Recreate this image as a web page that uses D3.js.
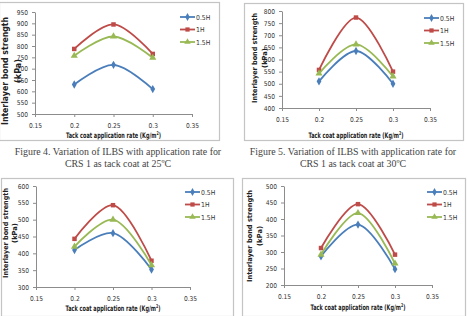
<!DOCTYPE html>
<html>
<head>
<meta charset="utf-8">
<script src="https://cdn.jsdelivr.net/npm/d3@7"></script>
<style>
  body { margin: 0; background: #fff; }
  svg { display: block; }
  .tick text { font-family: "DejaVu Sans", sans-serif; font-stretch: condensed; font-size: 6.6px; fill: #333; }
</style>
</head>
<body>
<svg id="chart" width="467" height="316"></svg>
<script>
const rates = [0.2, 0.25, 0.3];
const xTicks = [0.15, 0.2, 0.25, 0.3, 0.35];
const seriesNames = ["0.5H", "1H", "1.5H"];

// Fig 4 (25ºC)
const fig4Half = [630, 717, 610];
const fig4One = [787, 895, 765];
const fig4OneHalf = [757, 842, 748];
const fig4Ticks = [500, 550, 600, 650, 700, 750, 800, 850, 900, 950];

// Fig 5 (30ºC)
const fig5Half = [510, 635, 500];
const fig5One = [557, 773, 550];
const fig5OneHalf = [542, 662, 530];
const fig5Ticks = [400, 450, 500, 550, 600, 650, 700, 750, 800];

// lower left
const fig6Half = [410, 460, 352];
const fig6One = [443, 543, 378];
const fig6OneHalf = [420, 500, 365];
const fig6Ticks = [300, 350, 400, 450, 500, 550, 600];

// lower right
const fig7Half = [287, 383, 248];
const fig7One = [312, 445, 292];
const fig7OneHalf = [292, 418, 265];
const fig7Ticks = [200, 250, 300, 350, 400, 450, 500];

const caption4 = ["Figure 4. Variation of ILBS with application rate for", "CRS 1 as tack coat at 25ºC"];
const caption5 = ["Figure  5. Variation of ILBS with application rate for", "CRS 1 as tack coat at 30ºC"];

const colors = ["#4a7ebb", "#be4b48", "#98b954"];
const shapes = [d3.symbolDiamond, d3.symbolSquare, d3.symbolTriangle];
const sans = "DejaVu Sans, sans-serif";

const svg = d3.select("#chart");

function panel(cfg) {
  const { series, ticks, box, plot, title } = cfg;

  svg.append("rect")
    .attr("x", box[0] + 0.5).attr("y", box[1] + 0.5)
    .attr("width", box[2] - box[0]).attr("height", box[3] - box[1])
    .attr("fill", "none").attr("stroke", "#c4c4c4").attr("stroke-width", 1.2);

  const x = d3.scaleLinear().domain([0.15, 0.35]).range([plot[0], plot[1]]);
  const y = d3.scaleLinear().domain([ticks[0], ticks[ticks.length - 1]]).range([plot[3], plot[2]]);

  const gx = svg.append("g").attr("transform", `translate(0,${plot[3]})`)
    .call(d3.axisBottom(x).tickValues(xTicks).tickSize(3).tickSizeOuter(0).tickFormat(d3.format("")));
  const gy = svg.append("g").attr("transform", `translate(${plot[0]},0)`)
    .call(d3.axisLeft(y).tickValues(ticks).tickSize(3).tickSizeOuter(0));
  [gx, gy].forEach(g => {
    g.select(".domain").attr("stroke", "#8c8c8c");
    g.selectAll(".tick line").attr("stroke", "#8c8c8c");
  });
  gx.selectAll(".tick text").attr("dy", "1.25em");
  gy.selectAll(".tick text").attr("dx", "-1px");

  // y title: [x of baseline, centre y, length, font size, line gap]
  const yt = svg.append("text")
    .attr("transform", `translate(${title[0]},${title[1]}) rotate(-90)`)
    .attr("text-anchor", "middle")
    .attr("font-family", sans)
    .attr("font-weight", 700).attr("font-size", title[3])
    .attr("fill", "#222");
  yt.append("tspan").attr("x", 0).attr("dy", 0)
    .attr("textLength", title[2]).attr("lengthAdjust", "spacingAndGlyphs")
    .text("Interlayer bond strength");
  yt.append("tspan").attr("x", 0).attr("dy", title[4])
    .attr("textLength", title[2] * 0.22).attr("lengthAdjust", "spacingAndGlyphs")
    .text("(kPa)");

  // x title, squeezed horizontally to the narrow face of the original
  const xg = svg.append("g");
  const xt = xg.append("text")
    .attr("text-anchor", "middle")
    .attr("font-family", sans)
    .attr("font-weight", 700).attr("font-size", 7.6)
    .attr("fill", "#222");
  xt.append("tspan").text("Tack coat application rate (Kg/m");
  xt.append("tspan").attr("font-size", 5).attr("dy", -3).text("2");
  xt.append("tspan").attr("dy", 3).text(")");
  const w = xt.node().getComputedTextLength() || 150;
  xg.attr("transform", `translate(${(plot[0] + plot[1]) / 2},${cfg.xTitleY}) scale(${95 / w},1)`);

  const line = d3.line().x((d, i) => x(rates[i])).y(d => y(d)).curve(d3.curveCatmullRom.alpha(0.5));

  series.forEach((vals, si) => {
    svg.append("path").datum(vals)
      .attr("d", line).attr("fill", "none")
      .attr("stroke", colors[si]).attr("stroke-width", 1.8);
    svg.selectAll(null).data(vals).enter().append("path")
      .attr("transform", (d, i) => `translate(${x(rates[i])},${y(d)})`)
      .attr("d", d3.symbol().type(shapes[si]).size(si === 2 ? 22 : 20))
      .attr("fill", colors[si]);
  });

  // legend
  const lx = cfg.legend[0], ly = cfg.legend[1];
  seriesNames.forEach((name, si) => {
    const yy = ly + si * 12.5;
    svg.append("line")
      .attr("x1", lx).attr("x2", lx + 15).attr("y1", yy).attr("y2", yy)
      .attr("stroke", colors[si]).attr("stroke-width", 1.8);
    svg.append("path")
      .attr("transform", `translate(${lx + 7.5},${yy})`)
      .attr("d", d3.symbol().type(shapes[si]).size(18))
      .attr("fill", colors[si]);
    svg.append("text")
      .attr("x", lx + 16).attr("y", yy + 2.5)
      .attr("font-family", sans).attr("font-stretch", "condensed")
      .attr("font-size", 6.8).attr("fill", "#333")
      .text(name);
  });
}

function caption(lines, cx) {
  lines.forEach((t, i) => {
    svg.append("text")
      .attr("x", cx).attr("y", 155 + i * 11.5)
      .attr("text-anchor", "middle")
      .attr("font-family", "Liberation Serif, serif")
      .attr("font-size", 9.9).attr("fill", "#444")
      .text(t);
  });
}

panel({ series: [fig4Half, fig4One, fig4OneHalf], ticks: fig4Ticks,
  box: [-1, 2, 219, 140], plot: [35, 192, 12, 114], title: [7.5, 71, 108, 8.2, 13.5],
  xTitleY: 138, legend: [180, 17] });
panel({ series: [fig5Half, fig5One, fig5OneHalf], ticks: fig5Ticks,
  box: [244, 3, 463, 140], plot: [282, 430, 11, 108], title: [257, 58, 90, 7, 9.5],
  xTitleY: 138, legend: [424, 18] });
panel({ series: [fig6Half, fig6One, fig6OneHalf], ticks: fig6Ticks,
  box: [1, 178, 233, 316], plot: [36, 190, 186, 287], title: [7.5, 233, 90, 7, 9.5],
  xTitleY: 311, legend: [185, 192] });
panel({ series: [fig7Half, fig7One, fig7OneHalf], ticks: fig7Ticks,
  box: [242, 178, 465, 316], plot: [284, 432, 186, 285], title: [252, 236, 92, 7, 9.5],
  xTitleY: 310, legend: [427, 192] });

caption(caption4, 118);
caption(caption5, 353);
</script>
</body>
</html>
